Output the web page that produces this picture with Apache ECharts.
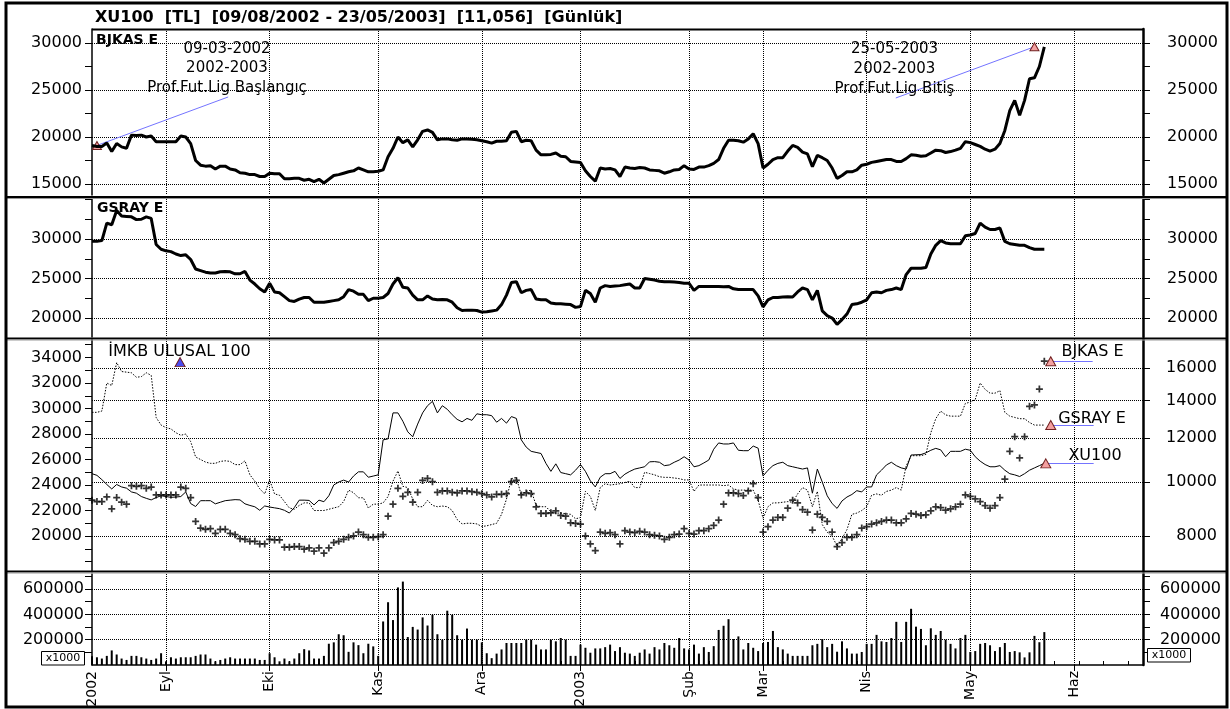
<!DOCTYPE html>
<html>
<head>
<meta charset="utf-8">
<title>XU100 - BJKAS E - GSRAY E</title>
<script src="https://cdn.jsdelivr.net/npm/echarts@6/dist/echarts.min.js"></script>
<style>
  html, body { margin: 0; padding: 0; background: #fff; }
  #chart { width: 1230px; height: 709px; }
</style>
</head>
<body>
<div id="chart"></div>
<script>
// one slot per trading session, starting 09/08/2002
const monthTicks = [0, 15, 36, 58, 79, 99, 121, 136, 157, 178, 199];
const monthLabels = ['2002', 'Eyl', 'Eki', 'Kas', 'Ara', '2003', 'Şub', 'Mar', 'Nis', 'May', 'Haz'];

const bjkas = [
  19100, 19000, 19000, 19350, 18450, 19300, 18950, 18800, 20200, 20150,
  20200, 20000, 20100, 19500, 19500, 19500, 19500, 19500, 20100, 20000,
  19300, 17500, 17000, 16900, 16950, 16600, 16900, 16900, 16600, 16500,
  16200, 16150, 16000, 16000, 15800, 15800, 16150, 16100, 16100, 15550,
  15550, 15600, 15600, 15400, 15500, 15250, 15500, 15100, 15500, 15900,
  16000, 16150, 16300, 16400, 16700, 16500, 16300, 16300, 16350, 16500,
  17900, 18800, 20000, 19400, 19700, 18950, 19700, 20600, 20750, 20500,
  19700, 19800, 19800, 19700, 19650, 19800, 19800, 19750, 19700, 19600,
  19500, 19350, 19550, 19550, 19600, 20500, 20600, 19500, 19650, 19600,
  18600, 18100, 18100, 18150, 18300, 17950, 17900, 17400, 17350, 17300,
  16400, 15800, 15300, 16700, 16600, 16650, 16500, 15800, 16800, 16700,
  16650, 16750, 16700, 16500, 16450, 16400, 16150, 16300, 16500, 16550,
  16950, 16600, 16550, 16800, 16800, 16950, 17200, 17600, 18800, 19650,
  19650, 19600, 19450, 19800, 20350, 19300, 16700, 17100, 17600, 17800,
  17800, 18500, 19100, 18900, 18400, 18200, 16850, 18050, 17800, 17500,
  16700, 15600, 15900, 16300, 16300, 16500, 17000, 17100, 17300, 17400,
  17500, 17600, 17600, 17400, 17400, 17700, 18100, 18050, 17950, 18000,
  18300, 18600, 18550, 18350, 18450, 18600, 18800, 19500, 19400, 19200,
  19000, 18700, 18500, 18700, 19300, 20700, 22800, 23900, 22300, 23900,
  26200, 26300, 27500, 29600
];

const gsray = [
  29700, 29700, 29800, 32000, 31800, 33600, 32900, 32850, 32800, 32450,
  32500, 32800, 32600, 29300, 28700, 28500, 28400, 28100, 27900, 28000,
  27400, 26200, 26000, 25800, 25700, 25700, 25850, 25900, 25850, 25600,
  25600, 25900, 24800, 24300, 23700, 23300, 24400, 23300, 23200, 22700,
  22200, 22100, 22400, 22600, 22600, 22000, 22000, 22000, 22100, 22200,
  22300, 22700, 23600, 23400, 23000, 23000, 22200, 22500, 22500, 22600,
  23100, 24300, 25100, 23900, 23800, 22900, 22300, 22300, 22800, 22400,
  22300, 22350, 22300, 22000, 21300, 20950, 21000, 21000, 20950, 20750,
  20800, 20900, 21000, 21700, 22900, 24500, 24600, 23200, 23500, 23600,
  22400, 22300, 22300, 21900, 21800, 21800, 21750, 21700, 21350, 21450,
  23500, 23100, 22000, 23800, 24100, 24000, 24050, 24100, 24200, 24300,
  23800, 23800, 25000, 24900, 24800, 24650, 24600, 24600, 24550, 24500,
  24400, 24400, 23500, 24000, 24000, 24000, 24000, 24000, 23950, 24000,
  23700, 23600, 23600, 23600, 23600, 22800, 21400, 22300, 22600, 22600,
  22650, 22700, 22650, 23300, 23800, 23600, 22300, 23500, 20900, 20300,
  20000, 19200, 19800, 20500, 21700, 21800, 22000, 22300, 23200, 23300,
  23200, 23500, 23600, 23800, 23600, 25500, 26300, 26300, 26300, 26400,
  28100, 29200, 29800, 29500, 29400, 29400, 29400, 30400, 30500, 30700,
  32000, 31500, 31200, 31200, 31400, 29700, 29400, 29300, 29200, 29200,
  28900, 28700, 28700, 28700
];

const xu100 = [
  10350, 10280, 10100, 9900, 9720, 9900, 9800, 9750, 9600, 9550,
  9420, 9350, 9290, 9380, 9450, 9420, 9390, 9400, 9420, 9600,
  9150, 9040, 9260, 9260, 9260, 9140, 9200, 9260, 9280, 9300,
  9290, 9140, 9080, 9030, 8900, 9060, 9020, 8990, 8960, 8900,
  8800, 9000, 9280, 9280, 9270, 9100, 9280, 9220, 9450, 9880,
  10000, 10080, 10000, 10250, 10430, 10430, 10200, 10250, 10300, 11900,
  11950, 13300, 13300, 12850, 12300, 12050, 12700, 13300, 13700, 13950,
  13300, 13700, 13500, 13200, 12950, 12820, 13000, 12900, 13250, 13200,
  13200, 13150, 12800, 13000, 12750, 13100, 13000, 11900, 11550, 11350,
  11300, 11250, 10800, 10450, 10780, 10400, 10350, 10300, 10500, 10750,
  10450, 10050, 9800, 10200, 10350, 10350, 10450, 10150, 10330, 10450,
  10550, 10600, 10650, 10870, 10880, 10850, 10700, 10730, 10850, 10950,
  11100, 10950, 10650, 10700, 10820, 10950, 11450, 11750, 11700, 11700,
  11750, 11400, 11380, 11380, 11600, 11500, 10250, 10500, 10700, 10800,
  10850, 10700, 10650, 10600, 10550, 10600, 9550, 10550, 10000, 9450,
  9150, 8970, 9250, 9400, 9500, 9650, 9600, 9800, 9800, 10300,
  10500, 10730, 10850, 10700, 10600, 10550, 11180, 11190, 11200, 11280,
  11400, 11490, 11420, 11100, 11350, 11350, 11350, 11450, 11400, 11100,
  10900, 10750, 10650, 10650, 10700, 10500, 10350, 10300, 10230, 10350,
  10500, 10600, 10700, 10800
];

// x1000
const volume = [
  70000, 61000, 51000, 72000, 115000, 83000, 51000, 40000, 72000, 72000,
  61000, 51000, 40000, 51000, 93000, 29000, 61000, 51000, 61000, 61000,
  61000, 72000, 83000, 83000, 51000, 29000, 40000, 51000, 61000, 51000,
  51000, 51000, 51000, 51000, 40000, 40000, 93000, 61000, 29000, 51000,
  29000, 51000, 93000, 125000, 115000, 51000, 51000, 72000, 168000, 179000,
  243000, 235000, 104000, 179000, 157000, 93000, 168000, 147000, 72000, 344000,
  496000, 355000, 613000, 659000, 221000, 301000, 280000, 376000, 312000, 397000,
  243000, 200000, 429000, 397000, 235000, 200000, 288000, 200000, 200000, 179000,
  93000, 54000, 90000, 123000, 174000, 174000, 174000, 174000, 200000, 200000,
  161000, 123000, 123000, 200000, 187000, 213000, 200000, 72000, 72000, 161000,
  136000, 97000, 131000, 131000, 141000, 161000, 110000, 141000, 97000, 90000,
  72000, 97000, 123000, 90000, 141000, 123000, 174000, 156000, 136000, 213000,
  131000, 123000, 161000, 90000, 141000, 103000, 149000, 277000, 310000, 362000,
  205000, 226000, 123000, 174000, 136000, 110000, 174000, 182000, 269000, 141000,
  123000, 90000, 72000, 72000, 72000, 72000, 156000, 167000, 205000, 141000,
  167000, 105000, 187000, 131000, 90000, 90000, 103000, 167000, 167000, 238000,
  187000, 182000, 213000, 341000, 182000, 341000, 444000, 303000, 285000, 156000,
  290000, 238000, 269000, 200000, 167000, 131000, 213000, 238000, 103000, 110000,
  167000, 174000, 156000, 110000, 141000, 174000, 103000, 110000, 100000, 60000,
  100000, 230000, 180000, 260000
];

const bjkasLabels = [15000, 20000, 25000, 30000];
const bjkasTicks = [15000, 17500, 20000, 22500, 25000, 27500, 30000];
const gsrayLabels = [20000, 25000, 30000];
const gsrayTicks = [20000, 22500, 25000, 27500, 30000, 32500, 35000];
const overlayLabels = [20000, 22000, 24000, 26000, 28000, 30000, 32000, 34000];
const overlayTicks = [18000, 19000, 20000, 21000, 22000, 23000, 24000, 25000, 26000,
  27000, 28000, 29000, 30000, 31000, 32000, 33000, 34000, 35000];
const indexLabels = [8000, 10000, 12000, 14000, 16000];
const volumeLabels = [200000, 400000, 600000];
const volumeTicks = [100000, 200000, 300000, 400000, 500000, 600000, 700000];

const FONT = 'DejaVu Sans';
const X_MAX = 213;
const last = bjkas.length - 1;
const dotted = { color: '#000', width: 1, type: [1, 1] };
const blue = '#7474ff';

const pairs = arr => arr.map((v, i) => [i, v]);

function sideAxis(gridIndex, position, min, max, labels, ticks, margin, type) {
  return {
    type: type || 'value', gridIndex, position, min, max,
    axisLine: { show: true, onZero: false, lineStyle: { color: '#000', width: position === 'left' ? 1.5 : 2.5 } },
    axisTick: { show: true, length: 7, customValues: ticks, lineStyle: { color: '#000' } },
    axisLabel: {
      customValues: labels, margin, align: 'right', color: '#000', fontFamily: FONT, fontSize: 16,
      formatter: v => String(v)
    },
    splitLine: { show: false }
  };
}

function gridAxis(gridIndex, min, max, values, type) {
  return {
    type: type || 'value', gridIndex, min, max,
    axisLine: { show: false },
    axisTick: { show: false, customValues: values },
    axisLabel: { show: false },
    splitLine: { show: true, lineStyle: dotted }
  };
}

function timeAxis(gridIndex, extra) {
  return Object.assign({
    type: 'value', gridIndex, min: 0, max: X_MAX,
    axisLine: { show: false },
    axisTick: { show: false, customValues: monthTicks.slice(1) },
    axisLabel: { show: false },
    splitLine: { show: true, lineStyle: dotted }
  }, extra);
}

function tri(coord, color, size) {
  return {
    coord, symbol: 'triangle', symbolSize: size || [10, 9],
    itemStyle: { color: color || '#f4a0a0', borderColor: '#702020', borderWidth: 1 }
  };
}

function seg(a, b) {
  return [{ coord: a }, { coord: b }];
}

const markLineBase = { silent: true, symbol: ['none', 'none'], label: { show: false },
  lineStyle: { color: blue, width: 1, type: 'solid' }, emphasis: { disabled: true } };
const markPointBase = { silent: true, label: { show: false } };

function text(x, y, str, font, align) {
  return { type: 'text', x, y, z: 120,
    style: { text: str, font, fill: '#000', align: align || 'left', verticalAlign: 'middle' } };
}
function bar(x, y, w, h, fill) {
  return { type: 'rect', z: 110, shape: { x, y, width: w, height: h }, style: { fill } };
}

const regular = '15px "DejaVu Sans"';
const option = {
  animation: false,
  backgroundColor: '#fff',
  grid: [
    { left: 92, right: 87, top: 29, height: 166, outerBoundsMode: 'none' },
    { left: 92, right: 87, top: 199, height: 138, outerBoundsMode: 'none' },
    { left: 92, right: 87, top: 339, height: 233, outerBoundsMode: 'none' },
    { left: 92, right: 87, top: 574, height: 91, outerBoundsMode: 'none' }
  ],
  xAxis: [
    timeAxis(0),
    timeAxis(1),
    timeAxis(2),
    timeAxis(3, {
      axisLine: { show: true, onZero: false, lineStyle: { color: '#000', width: 1.5 } },
      axisTick: { show: true, length: 6, customValues: monthTicks.slice(1), lineStyle: { color: '#000' } },
      axisLabel: {
        show: true, customValues: monthTicks, rotate: 90, margin: 6,
        color: '#000', fontFamily: FONT, fontSize: 14,
        formatter: v => monthLabels[monthTicks.indexOf(v)]
      }
    }),
    {
      type: 'value', gridIndex: 3, min: 0, max: X_MAX, interval: 5,
      axisLine: { show: false }, axisLabel: { show: false }, splitLine: { show: false },
      axisTick: { show: true, length: 4, lineStyle: { color: '#000' } }
    }
  ],
  yAxis: [
    sideAxis(0, 'left', 13830, 31490, bjkasLabels, bjkasTicks, 10),
    sideAxis(0, 'right', 13830, 31490, bjkasLabels, bjkasTicks, 75),
    gridAxis(0, 13830, 31490, bjkasLabels),
    sideAxis(1, 'left', 17600, 35060, gsrayLabels, gsrayTicks, 10),
    sideAxis(1, 'right', 17600, 35060, gsrayLabels, gsrayTicks, 75),
    gridAxis(1, 17600, 35060, gsrayLabels),
    sideAxis(2, 'left', 17180, 35450, overlayLabels, overlayTicks, 10),
    Object.assign(sideAxis(2, 'right', 6900, 18040, indexLabels, indexLabels, 74, 'log'),
      { logBase: 10, splitLine: { show: true, lineStyle: dotted } }),
    { type: 'value', gridIndex: 2, min: 13680, max: 31280, show: false },
    sideAxis(3, 'left', 0, 719000, volumeLabels, volumeTicks, 8),
    sideAxis(3, 'right', 0, 719000, volumeLabels, volumeTicks, 78),
    gridAxis(3, 0, 719000, volumeLabels)
  ],
  series: [
    {
      name: 'BJKAS E', type: 'line', xAxisIndex: 0, yAxisIndex: 0, data: pairs(bjkas),
      showSymbol: false, lineStyle: { color: '#000', width: 3 }, z: 5,
      markPoint: Object.assign({ data: [tri([1, bjkas[0]], null, [9, 8]), tri([191, bjkas[last]], null, [9, 8])] }, markPointBase),
      markLine: Object.assign({ data: [seg([1, bjkas[0]], [27.6, 24260]), seg([191, bjkas[last]], [162.9, 24150])] }, markLineBase)
    },
    {
      name: 'GSRAY E', type: 'line', xAxisIndex: 1, yAxisIndex: 3, data: pairs(gsray),
      showSymbol: false, lineStyle: { color: '#000', width: 3 }
    },
    {
      name: 'GSRAY E overlay', type: 'line', xAxisIndex: 2, yAxisIndex: 6, data: pairs(gsray),
      showSymbol: false, lineStyle: { color: '#000', width: 1, type: [1.5, 1.5] },
      markPoint: Object.assign({ data: [tri([194.3, gsray[last]])] }, markPointBase),
      markLine: Object.assign({ data: [seg([194.3, gsray[last]], [203, gsray[last]])] }, markLineBase)
    },
    {
      name: 'XU100', type: 'line', xAxisIndex: 2, yAxisIndex: 7, data: pairs(xu100),
      showSymbol: false, lineStyle: { color: '#000', width: 1 },
      markPoint: Object.assign({ data: [tri([193.3, xu100[last]]), tri([17.85, 16400], '#4a4af0', [10, 9])] }, markPointBase),
      markLine: Object.assign({ data: [seg([193.3, xu100[last]], [203, xu100[last]])] }, markLineBase)
    },
    {
      name: 'BJKAS E overlay', type: 'scatter', xAxisIndex: 2, yAxisIndex: 8, data: pairs(bjkas),
      symbol: 'path://M3,0H5V3H8V5H5V8H3V5H0V3H3Z', symbolSize: 7,
      itemStyle: { color: '#000' },
      markPoint: Object.assign({ data: [tri([194.3, bjkas[last]])] }, markPointBase),
      markLine: Object.assign({ data: [seg([194.3, bjkas[last]], [202.8, bjkas[last]])] }, markLineBase)
    },
    {
      name: 'Hacim', type: 'bar', xAxisIndex: 3, yAxisIndex: 9, data: pairs(volume),
      barWidth: 2, itemStyle: { color: '#000' }
    }
  ],
  graphic: [
    { type: 'rect', z: 130, shape: { x: 6, y: 3, width: 1221, height: 704 },
      style: { fill: 'none', stroke: '#000', lineWidth: 3 } },
    bar(92, 28.5, 1051, 2, '#000'),
    bar(6, 196, 1221, 2, '#000'), bar(6, 198, 1221, 1, '#999'),
    bar(6, 337.5, 1221, 2, '#000'), bar(6, 339.5, 1221, 1, '#999'),
    bar(6, 570.5, 1221, 2, '#000'), bar(6, 572.5, 1221, 1, '#999'),
    text(95, 17.5, 'XU100  [TL]  [09/08/2002 - 23/05/2003]  [11,056]  [Günlük]', 'bold 16px "DejaVu Sans"'),
    text(96, 40.5, 'BJKAS E', 'bold 14px "DejaVu Sans"'),
    text(97, 208, 'GSRAY E', 'bold 14px "DejaVu Sans"'),
    text(227, 49, '09-03-2002', regular, 'center'),
    text(227, 68.5, '2002-2003', regular, 'center'),
    text(227, 88, 'Prof.Fut.Lig Başlangıç', regular, 'center'),
    text(894.5, 49, '25-05-2003', regular, 'center'),
    text(894.5, 69, '2002-2003', regular, 'center'),
    text(894.5, 89, 'Prof.Fut.Lig Bitiş', regular, 'center'),
    text(179.5, 352, 'İMKB ULUSAL 100', '16px "DejaVu Sans"', 'center'),
    text(1092.5, 352, 'BJKAS E', '16px "DejaVu Sans"', 'center'),
    text(1092, 419, 'GSRAY E', '16px "DejaVu Sans"', 'center'),
    text(1095, 456, 'XU100', '16px "DejaVu Sans"', 'center'),
    { type: 'rect', z: 120, shape: { x: 41.5, y: 651.5, width: 43, height: 13.5 },
      style: { fill: '#fff', stroke: '#000', lineWidth: 1 } },
    text(63, 658.5, 'x1000', '11px "DejaVu Sans"', 'center'),
    { type: 'rect', z: 120, shape: { x: 1147.5, y: 648.5, width: 43, height: 13.5 },
      style: { fill: '#fff', stroke: '#000', lineWidth: 1 } },
    text(1169, 655.5, 'x1000', '11px "DejaVu Sans"', 'center')
  ]
};

const chart = echarts.init(document.getElementById('chart'));
chart.setOption(option);
</script>
</body>
</html>
